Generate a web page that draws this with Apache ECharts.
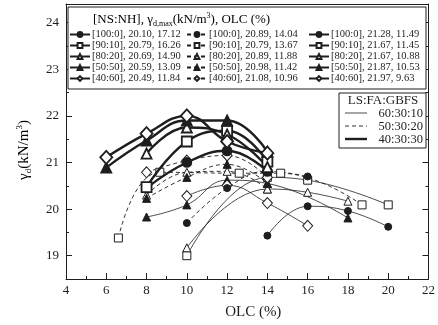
<!DOCTYPE html>
<html>
<head>
<meta charset="utf-8">
<script src="https://cdn.jsdelivr.net/npm/echarts@6/dist/echarts.min.js"></script>
<style>
  html, body { margin: 0; padding: 0; background: #fff; }
  #chart { width: 438px; height: 325px; }
</style>
</head>
<body>
<div id="chart"></div>
<script>
const FONT = 'Liberation Serif';
const ink = '#1e1e1e';

// NS:NH ratios and the three LS:FA:GBFS mixes
const ratios = ['100:0', '90:10', '80:20', '50:50', '40:60'];
const mixes = ['60:30:10', '50:30:20', '40:30:30'];

// legend values: [gamma_d,max, OLC]
const peakThin = [[20.10, 17.12], [20.79, 16.26], [20.69, 14.90], [20.59, 13.09], [20.49, 11.84]];
const peakDash = [[20.89, 14.04], [20.79, 13.67], [20.89, 11.88], [20.98, 11.42], [21.08, 10.96]];
const peakThick = [[21.28, 11.49], [21.67, 11.45], [21.67, 10.88], [21.87, 10.53], [21.97, 9.63]];

// measured points [OLC, gamma_d] - 60:30:10
const thin100 = [[14, 19.43], [16, 20.06], [18, 19.96], [20, 19.62]];
const thin90 = [[10, 19.0], [14, 20.68], [16, 20.62], [20, 20.09]];
const thin80 = [[10, 19.17], [14, 20.43], [16, 20.36], [18, 20.17]];
const thin50 = [[8, 19.83], [10, 20.09], [12, 20.62], [14, 20.55], [18, 19.81]];
const thin40 = [[10, 20.28], [12, 20.51], [14, 20.13], [16, 19.64]];

// 50:30:20
const dash100 = [[10, 19.70], [12, 20.45], [14, 20.81], [16, 20.7]];
const dash90 = [[6.6, 19.38], [8.66, 20.79], [12.6, 20.77], [14.66, 20.77], [18.7, 20.09]];
const dash80 = [[8, 20.3], [10, 20.79], [12, 20.81], [14, 20.43]];
const dash50 = [[8, 20.23], [10, 20.68], [12, 20.96], [14, 20.55]];
const dash40 = [[8, 20.79], [10, 21.04], [12, 21.15], [14, 20.68]];

// 40:30:30
const thick100 = [[8, 20.45], [10, 21.0], [12, 21.25], [14, 20.81]];
const thick90 = [[8, 20.47], [10, 21.45], [12, 21.68], [14, 21.02]];
const thick80 = [[8, 21.19], [10, 21.75], [12, 21.6], [14, 20.9]];
const thick50 = [[6, 20.89], [8, 21.47], [10, 21.9], [12, 21.9], [14, 21.23]];
const thick40 = [[6, 21.11], [8, 21.62], [10, 22.0], [12, 21.45], [14, 21.2]];

const yMajor = [19, 20, 21, 22, 23, 24];
const yMinor = [19.5, 20.5, 21.5, 22.5, 23.5];

const chart = echarts.init(document.getElementById('chart'), null, { renderer: 'canvas' });

// marker style per ratio
const marks = [
  { symbol: 'circle', fill: true, size: 7 },
  { symbol: 'rect', fill: false, size: 8 },
  { symbol: 'triangle', fill: false, size: 8 },
  { symbol: 'triangle', fill: true, size: 8 },
  { symbol: 'diamond', fill: false, size: [10, 11] }
];

const groups = [
  { data: [thin100, thin90, thin80, thin50, thin40], peaks: peakThin, width: 0.8, type: 'solid', border: 1 },
  { data: [dash100, dash90, dash80, dash50, dash40], peaks: peakDash, width: 0.9, type: [4, 3], border: 1 },
  { data: [thick100, thick90, thick80, thick50, thick40], peaks: peakThick, width: 2.4, type: 'solid', border: 1.8 }
];

const series = [];
const legendNames = [[], [], []];
groups.forEach(function (g, gi) {
  g.data.forEach(function (pts, ri) {
    const m = marks[ri];
    const name = '[' + ratios[ri] + '], ' + g.peaks[ri][0].toFixed(2) + ', ' + g.peaks[ri][1].toFixed(2);
    legendNames[gi].push(name);
    let size = m.size;
    if (gi === 2) size = Array.isArray(size) ? [size[0] + 2, size[1] + 2] : size + 2;
    series.push({
      name: name,
      type: 'line',
      smooth: 0.45,
      data: pts,
      symbol: m.symbol,
      symbolSize: size,
      showAllSymbol: true,
      lineStyle: { color: ink, width: g.width, type: g.type },
      itemStyle: { color: m.fill ? ink : '#fff', borderColor: ink, borderWidth: g.border },
      z: 2 + gi,
      emphasis: { disabled: true },
      animation: false
    });
  });
});

function legendCol(left, names) {
  return {
    orient: 'vertical',
    left: left,
    top: 29,
    itemWidth: 20,
    itemHeight: 6,
    itemGap: 0,
    padding: 0,
    selectedMode: false,
    data: names,
    textStyle: { fontFamily: FONT, fontSize: 10.5, color: ink, lineHeight: 9.4, padding: [0, 0, 0, -3] }
  };
}

const textRich = {
  t: { fontFamily: FONT, fontSize: 13, color: ink, lineHeight: 16 },
  s: { fontFamily: FONT, fontSize: 8, color: ink, lineHeight: 8, verticalAlign: 'bottom' },
  p: { fontFamily: FONT, fontSize: 8, color: ink, lineHeight: 8, verticalAlign: 'top' }
};
const nameRich = {
  t: { fontFamily: FONT, fontSize: 15, color: ink, lineHeight: 18 },
  s: { fontFamily: FONT, fontSize: 9, color: ink, lineHeight: 9, verticalAlign: 'bottom' },
  p: { fontFamily: FONT, fontSize: 9, color: ink, lineHeight: 9, verticalAlign: 'top' }
};

function keyText(y, txt) {
  return { type: 'text', x: 423, y: y, style: { text: txt, fontFamily: FONT, fontSize: 12.5, fill: ink, align: 'right', verticalAlign: 'middle' }, z: 5, silent: true };
}

const option = {
  backgroundColor: '#fff',
  animation: false,
  grid: { left: 66, right: 9, top: 4, bottom: 43.5 },
  legend: [
    legendCol(69, legendNames[0]),
    legendCol(186, legendNames[1]),
    legendCol(308, legendNames[2])
  ],
  xAxis: [{
    type: 'value',
    min: 4, max: 22, interval: 2,
    name: 'OLC (%)',
    nameLocation: 'middle',
    nameGap: 26,
    nameTextStyle: { fontFamily: FONT, fontSize: 15, color: ink, padding: [0, 0, 0, 12] },
    axisLine: { lineStyle: { color: ink, width: 1 } },
    axisTick: { inside: true, length: 6, lineStyle: { color: ink } },
    minorTick: { show: true, splitNumber: 2, length: 3, lineStyle: { color: ink } },
    axisLabel: { fontFamily: FONT, fontSize: 13, color: ink, margin: 5 },
    splitLine: { show: false }
  }, {
    type: 'value', position: 'top',
    min: 4, max: 22, interval: 2,
    axisLine: { onZero: false, lineStyle: { color: ink, width: 1 } },
    axisTick: { show: false },
    axisLabel: { show: false },
    splitLine: { show: false }
  }],
  yAxis: [{
    type: 'value',
    min: 18.5, max: 24.4,
    axisLine: { show: true, lineStyle: { color: ink, width: 1 } },
    axisTick: { inside: true, length: 6, customValues: yMajor, lineStyle: { color: ink } },
    axisLabel: { customValues: yMajor, fontFamily: FONT, fontSize: 13, color: ink, margin: 7 },
    splitLine: { show: false }
  }, {
    type: 'value', position: 'right',
    min: 18.5, max: 24.4,
    axisLine: { show: true, onZero: false, lineStyle: { color: ink, width: 1 } },
    axisTick: { inside: true, length: 6, customValues: yMajor, lineStyle: { color: ink } },
    axisLabel: { show: false },
    splitLine: { show: false }
  }, {
    type: 'value', position: 'left',
    min: 18.5, max: 24.4,
    axisLine: { show: false },
    axisTick: { inside: true, length: 3, customValues: yMinor, lineStyle: { color: ink } },
    axisLabel: { show: false },
    splitLine: { show: false }
  }, {
    type: 'value', position: 'right',
    min: 18.5, max: 24.4,
    axisLine: { show: false },
    axisTick: { inside: true, length: 3, customValues: yMinor, lineStyle: { color: ink } },
    axisLabel: { show: false },
    splitLine: { show: false }
  }],
  graphic: [
    // y axis title
    { type: 'text', x: 24, y: 150, rotation: Math.PI / 2, style: { text: '{t|γ}{s|d}{t|(kN/m}{p|3}{t|)}', rich: nameRich, align: 'center', verticalAlign: 'middle' }, z: 5, silent: true },
    // first legend frame + heading
    { type: 'rect', shape: { x: 68, y: 7, width: 358, height: 82 }, style: { fill: '#fff', stroke: ink, lineWidth: 1 }, z: 1, silent: true },
    { type: 'text', x: 93, y: 12, style: { text: '{t|[NS:NH], γ}{s|d,max}{t|(kN/m}{p|3}{t|), OLC (%)}', rich: textRich }, z: 5, silent: true },
    // LS:FA:GBFS key
    { type: 'rect', shape: { x: 339, y: 93, width: 87, height: 55 }, style: { fill: '#fff', stroke: ink, lineWidth: 1 }, z: 1, silent: true },
    { type: 'text', x: 383, y: 101, style: { text: 'LS:FA:GBFS', fontFamily: FONT, fontSize: 13, fill: ink, align: 'center', verticalAlign: 'middle' }, z: 5, silent: true },
    { type: 'line', shape: { x1: 345, y1: 113, x2: 367, y2: 113 }, style: { stroke: ink, lineWidth: 0.8 }, z: 5, silent: true },
    { type: 'line', shape: { x1: 345, y1: 126, x2: 367, y2: 126 }, style: { stroke: ink, lineWidth: 0.9, lineDash: [4, 3] }, z: 5, silent: true },
    { type: 'line', shape: { x1: 345, y1: 139, x2: 367, y2: 139 }, style: { stroke: ink, lineWidth: 2.4 }, z: 5, silent: true },
    keyText(114, mixes[0]),
    keyText(127, mixes[1]),
    keyText(140, mixes[2])
  ],
  series: series
};

chart.setOption(option);
</script>
</body>
</html>
